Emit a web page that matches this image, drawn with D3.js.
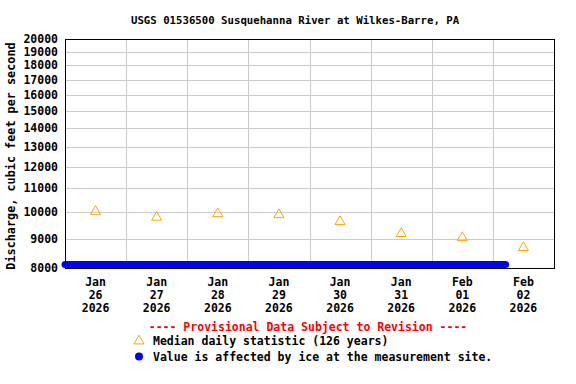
<!DOCTYPE html>
<html>
<head>
<meta charset="utf-8">
<script src="https://cdn.jsdelivr.net/npm/d3@7"></script>
<style>
  body { margin: 0; background: #fff; }
  text { font-family: "DejaVu Sans Mono", "Liberation Mono", monospace; font-weight: bold; font-size: 11.5px; }
</style>
</head>
<body>
<script>
var title = "USGS 01536500 Susquehanna River at Wilkes-Barre, PA";
var yLabel = "Discharge, cubic feet per second";
var yTicks = [8000, 9000, 10000, 11000, 12000, 13000, 14000, 15000, 16000, 17000, 18000, 19000, 20000];
var dayStarts = ["2026-01-26", "2026-01-27", "2026-01-28", "2026-01-29", "2026-01-30", "2026-01-31", "2026-02-01", "2026-02-02", "2026-02-03"];
var medianDays = ["2026-01-26", "2026-01-27", "2026-01-28", "2026-01-29", "2026-01-30", "2026-01-31", "2026-02-01", "2026-02-02"];
var medianValues = [10030, 9800, 9940, 9900, 9630, 9180, 9030, 8680];
// ice-affected record, no discharge value: drawn along the bottom of the plot
var iceStart = "2026-01-26T00:00";
var iceEnd = "2026-02-02T05:00";
var legendItems = ["Median daily statistic (126 years)", "Value is affected by ice at the measurement site."];

var W = 576, H = 384;
var m = { left: 65, right: 22, top: 39, bottom: 116 };

var parseDay = d3.utcParse("%Y-%m-%d");
var parseTime = d3.utcParse("%Y-%m-%dT%H:%M");

var svg = d3.select("body").append("svg")
  .attr("width", W)
  .attr("height", H);

var x = d3.scaleUtc()
  .domain([parseDay(dayStarts[0]), parseDay(dayStarts[dayStarts.length - 1])])
  .range([m.left, W - m.right]);

var y = d3.scaleLog()
  .domain([8000, 20000])
  .range([H - m.bottom, m.top]);

// grid
svg.append("g").selectAll("line")
  .data(yTicks.slice(1, -1))
  .enter().append("line")
  .attr("x1", m.left).attr("x2", W - m.right)
  .attr("y1", function (d) { return Math.round(y(d)) + 0.5; })
  .attr("y2", function (d) { return Math.round(y(d)) + 0.5; })
  .attr("stroke", "#cccccc");

svg.append("g").selectAll("line")
  .data(dayStarts.slice(1, -1))
  .enter().append("line")
  .attr("x1", function (d) { return Math.round(x(parseDay(d))) + 0.5; })
  .attr("x2", function (d) { return Math.round(x(parseDay(d))) + 0.5; })
  .attr("y1", m.top).attr("y2", H - m.bottom)
  .attr("stroke", "#cccccc");

// ice band
svg.append("line")
  .attr("x1", x(parseTime(iceStart)))
  .attr("x2", x(parseTime(iceEnd)))
  .attr("y1", y(8000) - 3.5)
  .attr("y2", y(8000) - 3.5)
  .attr("stroke", "#0000ff")
  .attr("stroke-width", 7)
  .attr("stroke-linecap", "round");

// frame
svg.append("rect")
  .attr("x", m.left + 0.5).attr("y", m.top + 0.5)
  .attr("width", W - m.right - m.left).attr("height", H - m.bottom - m.top)
  .attr("fill", "none")
  .attr("stroke", "#000");

// median triangles
var tri = d3.symbol().type(d3.symbolTriangle).size(44);
svg.append("g").selectAll("path")
  .data(medianDays)
  .enter().append("path")
  .attr("d", tri)
  .attr("transform", function (d, i) {
    return "translate(" + x(d3.utcHour.offset(parseDay(d), 12)) + "," + y(medianValues[i]) + ")";
  })
  .attr("fill", "none")
  .attr("stroke", "#ffa500")
  .attr("stroke-width", 1);

// y tick labels
svg.append("g").selectAll("text")
  .data(yTicks)
  .enter().append("text")
  .attr("x", 58)
  .attr("y", function (d) { return y(d); })
  .attr("dy", "0.35em")
  .attr("text-anchor", "end")
  .text(function (d) { return d; });

// x tick labels
var fmtMon = d3.utcFormat("%b"), fmtDay = d3.utcFormat("%d"), fmtYr = d3.utcFormat("%Y");
var xl = svg.append("g").selectAll("text")
  .data(medianDays)
  .enter().append("text")
  .attr("text-anchor", "middle")
  .attr("transform", function (d) {
    return "translate(" + x(d3.utcHour.offset(parseDay(d), 12)) + ",286)";
  });
xl.append("tspan").attr("x", 0).attr("y", 0).text(function (d) { return fmtMon(parseDay(d)); });
xl.append("tspan").attr("x", 0).attr("y", 13).text(function (d) { return fmtDay(parseDay(d)); });
xl.append("tspan").attr("x", 0).attr("y", 26).text(function (d) { return fmtYr(parseDay(d)); });

// title
svg.append("text")
  .attr("x", 131).attr("y", 24)
  .style("font-size", "10.7px")
  .text(title);

// y label
svg.append("text")
  .attr("transform", "translate(15,156) rotate(-90)")
  .attr("text-anchor", "middle")
  .style("font-size", "11.8px")
  .text(yLabel);

// legend
svg.append("text")
  .attr("x", 308).attr("y", 331)
  .attr("text-anchor", "middle")
  .attr("fill", "#ff0000")
  .text("---- Provisional Data Subject to Revision ----");

svg.append("path")
  .attr("d", tri)
  .attr("transform", "translate(139,341)")
  .attr("fill", "none")
  .attr("stroke", "#ffa500");

svg.append("circle")
  .attr("cx", 139).attr("cy", 356.5).attr("r", 4)
  .attr("fill", "#0000ff");

svg.append("g").selectAll("text")
  .data(legendItems)
  .enter().append("text")
  .attr("x", 153)
  .attr("y", function (d, i) { return 345 + i * 15.5; })
  .text(function (d) { return d; });
</script>
</body>
</html>
